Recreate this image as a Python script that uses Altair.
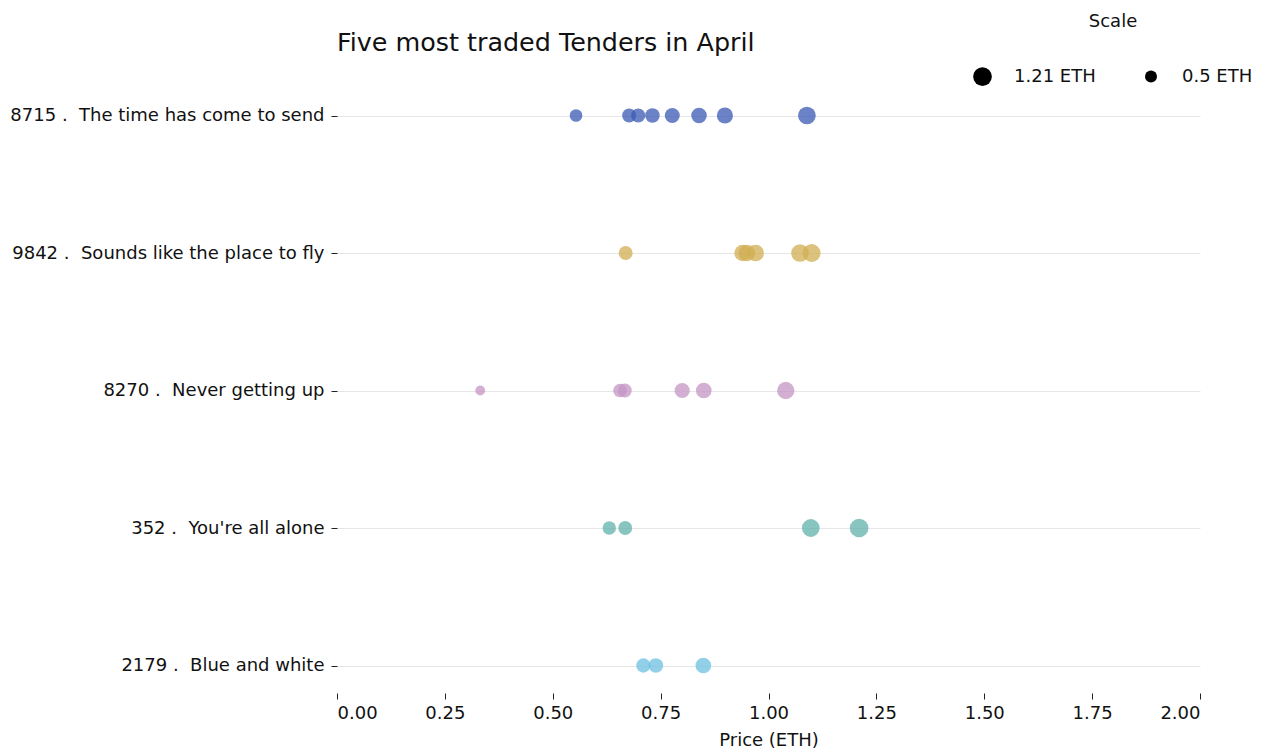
import altair as alt
import pandas as pd

# ---- data ----
tokens = ["8715", "9842", "8270", "352", "2179"]
names = [
    "The time has come to send",
    "Sounds like the place to fly",
    "Never getting up",
    "You're all alone",
    "Blue and white",
]
prices_8715 = [0.554, 0.677, 0.698, 0.731, 0.777, 0.839, 0.899, 1.089]
prices_9842 = [0.669, 0.94, 0.95, 0.97, 1.073, 1.10]
prices_8270 = [0.332, 0.656, 0.667, 0.80, 0.85, 1.04]
prices_352 = [0.631, 0.668, 1.098, 1.21]
prices_2179 = [0.71, 0.739, 0.849]
all_prices = [prices_8715, prices_9842, prices_8270, prices_352, prices_2179]

colors = ["#3a5ab3", "#d0ad50", "#c496c4", "#60b2ac", "#6cc0e0"]
x_ticks = [0.0, 0.25, 0.5, 0.75, 1.0, 1.25, 1.5, 1.75, 2.0]
legend_values = [1.21, 0.5]

labels = [f"{t} .\u00a0\u00a0{n}" for t, n in zip(tokens, names)]
rows = []
for lab, ps in zip(labels, all_prices):
    for p in ps:
        rows.append({"label": lab, "price": p})
df = pd.DataFrame(rows)

FONT = "DejaVu Sans"

chart = (
    alt.Chart(df)
    .mark_circle(opacity=0.75)
    .encode(
        x=alt.X(
            "price:Q",
            scale=alt.Scale(domain=[0, 2], nice=False, zero=True),
            axis=alt.Axis(
                values=x_ticks,
                format=".2f",
                title="Price (ETH)",
                grid=False,
                domain=False,
                tickSize=6,
                labelPadding=5,
                titlePadding=9,
            ),
        ),
        y=alt.Y(
            "label:N",
            sort=labels,
            scale=alt.Scale(padding=0.2),
            axis=alt.Axis(
                title=None,
                grid=True,
                domain=False,
                tickSize=6,
                labelPadding=7,
                labelLimit=500,
            ),
        ),
        color=alt.Color(
            "label:N",
            scale=alt.Scale(domain=labels, range=colors),
            legend=None,
        ),
        size=alt.Size(
            "price:Q",
            scale=alt.Scale(domain=[0, 2], range=[0, 576], zero=True),
            legend=alt.Legend(
                title="Scale",
                values=legend_values,
                labelExpr="datum.value + ' ETH'",
                direction="horizontal",
                orient="none",
                legendX=636,
                legendY=-75,
                titleAnchor="middle",
                titleAlign="center",
                titlePadding=36,
                labelOffset=22,
                columnPadding=46,
                symbolFillColor="black",
                symbolStrokeColor="black",
                symbolOpacity=1,
                symbolStrokeWidth=0,
            ),
        ),
    )
    .properties(
        width=863,
        height=605,
        title=alt.Title(
            "Five most traded Tenders in April",
            anchor="start",
            frame="group",
            fontSize=25.4,
            fontWeight="normal",
            font=FONT,
            color="#111",
            offset=-43,
        ),
        autosize=alt.AutoSizeParams(type="none"),
        padding={"left": 329, "top": 80, "right": 55, "bottom": 55},
    )
    .configure_view(stroke=None)
    .configure_axis(
        labelFont=FONT,
        titleFont=FONT,
        labelFontSize=18,
        titleFontSize=18,
        titleFontWeight="normal",
        labelColor="#111",
        titleColor="#111",
        tickColor="#222",
        gridColor="#e6e6e6",
        gridWidth=1,
    )
    .configure_legend(
        labelFont=FONT,
        titleFont=FONT,
        labelFontSize=18,
        titleFontSize=18,
        titleFontWeight="normal",
        labelColor="#111",
        titleColor="#111",
    )
)

chart.save("out.html", embed_options={"renderer": "svg", "actions": False})
